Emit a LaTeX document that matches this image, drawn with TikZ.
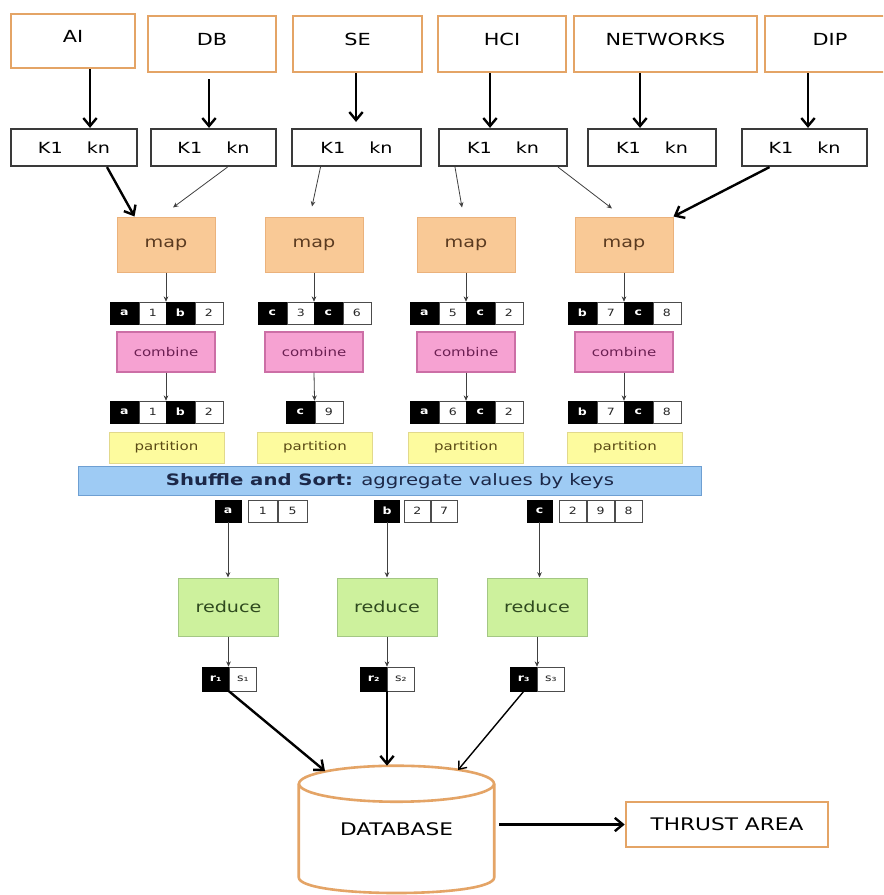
\documentclass[tikz,border=0pt]{standalone}
\usepackage{fontspec}
\setmainfont[FakeStretch=1.25]{DejaVu Sans}
\usetikzlibrary{arrows.meta,calc}
\newdimen\px
\px=0.75pt
\definecolor{orB}{HTML}{E4A466}
\definecolor{kB}{HTML}{3A3A3A}
\definecolor{mapF}{HTML}{F9C996}
\definecolor{mapB}{HTML}{EBB27C}
\definecolor{mapT}{HTML}{5A3A20}
\definecolor{cmbF}{HTML}{F6A2D2}
\definecolor{cmbB}{HTML}{CC6FA6}
\definecolor{cmbT}{HTML}{6B1F52}
\definecolor{parF}{HTML}{FDFB9E}
\definecolor{parB}{HTML}{E2D98C}
\definecolor{parT}{HTML}{5A4A15}
\definecolor{redF}{HTML}{CDF19D}
\definecolor{redB}{HTML}{A4C784}
\definecolor{redT}{HTML}{2F4A1F}
\definecolor{shF}{HTML}{9ECBF4}
\definecolor{shB}{HTML}{6E9FD2}
\definecolor{shT}{HTML}{1C2848}
\newcommand\kvp[5]{%
  \node[kcell,anchor=west] (#1k) at (#2,#3) {#4};
  \node[vcell,anchor=west] (#1v) at (#1k.east) {#5};}
\begin{document}
\begin{tikzpicture}[x=0.75pt,y=-0.75pt,
  topbox/.style={draw=orB,line width=2.6\px,fill=white,minimum height=56\px,inner sep=0pt,text height=9pt,text depth=7pt,font=\fontsize{12.5}{15}\selectfont},
  kbox/.style={draw=kB,line width=2.2\px,fill=white,minimum height=37\px,inner sep=0pt,font=\fontsize{11.5}{13}\selectfont},
  mapbox/.style={draw=mapB,line width=1\px,fill=mapF,minimum width=98\px,minimum height=55\px,inner sep=0pt,text=mapT,font=\fontsize{11.5}{13}\selectfont},
  cmbbox/.style={draw=cmbB,line width=1.2\px,fill=cmbF,minimum width=98\px,minimum height=40\px,inner sep=0pt,text=cmbT,font=\fontsize{9}{11}\selectfont},
  parbox/.style={draw=parB,line width=1\px,fill=parF,minimum width=115\px,minimum height=31\px,inner sep=0pt,text=parT,font=\fontsize{9}{11}\selectfont},
  redbox/.style={draw=redB,line width=1\px,fill=redF,minimum width=100\px,minimum height=58\px,inner sep=0pt,text=redT,font=\fontsize{11.5}{13}\selectfont},
  kcell/.style={draw=black,fill=black,text=white,minimum width=28\px,minimum height=22\px,inner sep=0pt,font=\fontsize{7.5}{8}\selectfont\bfseries},
  vcell/.style={draw=black!70,line width=0.8\px,fill=white,text=black!85,minimum width=28\px,minimum height=22\px,inner sep=0pt,font=\fontsize{7.5}{8}\selectfont},
  bigarr/.style={line width=2.4\px,-{Straight Barb[length=6pt,width=10pt]}},
  midarr/.style={line width=1.4\px,-{Straight Barb[length=5pt,width=8pt]}},
  thinarr/.style={line width=0.8\px,draw=black!75,-{Stealth[length=4pt,width=3.5pt]}},
  dbline/.style={draw=orB,line width=2.6\px}
]
\useasboundingbox (0,0) rectangle (883,895);
\fill[white] (0,0) rectangle (883,895);
\clip (0,0) rectangle (883,895);

% top boxes
\node[topbox,minimum width=124\px,minimum height=54\px] (ai) at (73,41) {AI};
\node[topbox,minimum width=128\px] (dbs) at (212,44) {DB};
\node[topbox,minimum width=129\px] (se) at (357.5,44) {SE};
\node[topbox,minimum width=128\px] (hci) at (502,44) {HCI};
\node[topbox,minimum width=183\px] (net) at (665.5,44) {NETWORKS};
\node[topbox,minimum width=130\px] (dip) at (830,44) {DIP};

% key boxes
\node[kbox,minimum width=126\px] (kA) at (74,147.5) {K1\hspace{24\px}kn};
\node[kbox,minimum width=125\px] (kB) at (213.5,147.5) {K1\hspace{24\px}kn};
\node[kbox,minimum width=129\px] (kC) at (356.5,147.5) {K1\hspace{24\px}kn};
\node[kbox,minimum width=128\px] (kD) at (503,147.5) {K1\hspace{24\px}kn};
\node[kbox,minimum width=128\px] (kE) at (652,147.5) {K1\hspace{24\px}kn};
\node[kbox,minimum width=125\px] (kF) at (804.5,147.5) {K1\hspace{24\px}kn};

\coordinate (xa) at (90,0);
\coordinate (xb) at (209,0);
\coordinate (xc) at (356,0);
\coordinate (xd) at (490,0);
\coordinate (xe) at (640,0);
\coordinate (xf) at (808,0);
\draw[bigarr] (ai.south -| xa) -- (kA.north -| xa);
\draw[bigarr,shorten <=6\px] (dbs.south -| xb) -- (kB.north -| xb);
\draw[bigarr,shorten >=6\px] (se.south -| xc) -- (kC.north -| xc);
\draw[bigarr] (hci.south -| xd) -- (kD.north -| xd);
\draw[bigarr] (net.south -| xe) -- (kE.north -| xe);
\draw[bigarr] (dip.south -| xf) -- (kF.north -| xf);

% map
\node[mapbox] (m1) at (166,244.5) {map};
\node[mapbox] (m2) at (314,244.5) {map};
\node[mapbox] (m3) at (466,244.5) {map};
\node[mapbox] (m4) at (624,244.5) {map};

\draw[bigarr] ([xshift=33\px]kA.south) -- ([xshift=18\px]m1.north west);
\draw[thinarr] ([xshift=14\px]kB.south) -- ([xshift=7\px,yshift=9\px]m1.north);
\draw[thinarr] ([xshift=-36\px]kC.south) -- ([xshift=-2\px,yshift=10\px]m2.north);
\draw[thinarr] ([xshift=-48\px]kD.south) -- ([xshift=-4\px,yshift=9\px]m3.north);
\draw[thinarr] ([xshift=55\px]kD.south) -- ([xshift=-12\px,yshift=8\px]m4.north);
\draw[bigarr] ([xshift=-35\px]kF.south) -- (m4.north east);

% pairs row 1
\kvp{pa1}{110}{313}{a}{1}
\kvp{pa2}{166}{313}{b}{2}
\kvp{pb1}{258}{313}{c}{3}
\kvp{pb2}{314}{313}{c}{6}
\kvp{pc1}{410}{313}{a}{5}
\kvp{pc2}{466}{313}{c}{2}
\kvp{pd1}{568}{313}{b}{7}
\kvp{pd2}{624}{313}{c}{8}
\draw[thinarr] (m1.south) -- (pa2k.north west);
\draw[thinarr] (m2.south) -- (pb2k.north west);
\draw[thinarr] (m3.south) -- (pc2k.north west);
\draw[thinarr] (m4.south) -- (pd2k.north west);

% combine
\node[cmbbox] (c1) at (166,352) {combine};
\node[cmbbox] (c2) at (314,352) {combine};
\node[cmbbox] (c3) at (466,352) {combine};
\node[cmbbox] (c4) at (624,352) {combine};

% pairs row 2
\kvp{qa1}{110}{412}{a}{1}
\kvp{qa2}{166}{412}{b}{2}
\kvp{qb1}{286}{412}{c}{9}
\kvp{qc1}{410}{412}{a}{6}
\kvp{qc2}{466}{412}{c}{2}
\kvp{qd1}{568}{412}{b}{7}
\kvp{qd2}{624}{412}{c}{8}
\draw[thinarr] (c1.south) -- (qa2k.north west);
\draw[thinarr] (c2.south) -- (qb1k.north east);
\draw[thinarr] (c3.south) -- (qc2k.north west);
\draw[thinarr] (c4.south) -- (qd2k.north west);

% partition
\node[parbox] (p1) at (166.5,447.5) {partition};
\node[parbox] (p2) at (315,447.5) {partition};
\node[parbox] (p3) at (466,447.5) {partition};
\node[parbox] (p4) at (625,447.5) {partition};

% shuffle
\node[draw=shB,line width=1.5\px,fill=shF,minimum width=623\px,minimum height=29\px,inner sep=0pt,text=shT,font=\fontsize{11.8}{13}\selectfont] (sh) at (390,481) {\textbf{Shuffle and Sort:} aggregate values by keys};

% grouped keys
\node[kcell,minimum width=26\px] (ga) at (228,511) {a};
\node[vcell,anchor=west,minimum width=29\px] (ga1) at (248,511) {1};
\node[vcell,anchor=west,minimum width=29\px] (ga2) at (ga1.east) {5};
\node[kcell,minimum width=25\px] (gb) at (387,511) {b};
\node[vcell,anchor=west,minimum width=26\px] (gb1) at (404,511) {2};
\node[vcell,anchor=west,minimum width=26\px] (gb2) at (gb1.east) {7};
\node[kcell,minimum width=25\px] (gc) at (539.5,511) {c};
\node[vcell,anchor=west,minimum width=27\px] (gc1) at (559,511) {2};
\node[vcell,anchor=west,minimum width=27\px] (gc2) at (gc1.east) {9};
\node[vcell,anchor=west,minimum width=27\px] (gc3) at (gc2.east) {8};

% reduce
\node[redbox] (r1) at (228.5,607) {reduce};
\node[redbox] (r2) at (387,607) {reduce};
\node[redbox] (r3) at (537,607) {reduce};
\draw[thinarr] (ga.south) -- (ga.south |- r1.north);
\draw[thinarr] (gb.south) -- (r2.north);
\draw[thinarr] (gc.south) -- (gc.south |- r3.north);

% outputs
\node[kcell,anchor=east,minimum width=26\px,minimum height=24\px] (o1k) at (229,679) {r₁};
\node[vcell,anchor=west,minimum width=27\px,minimum height=24\px] (o1v) at (229,679) {s₁};
\node[kcell,anchor=east,minimum width=26\px,minimum height=24\px] (o2k) at (387,679) {r₂};
\node[vcell,anchor=west,minimum width=27\px,minimum height=24\px] (o2v) at (387,679) {s₂};
\node[kcell,anchor=east,minimum width=26\px,minimum height=24\px] (o3k) at (537,679) {r₃};
\node[vcell,anchor=west,minimum width=27\px,minimum height=24\px] (o3v) at (537,679) {s₃};
\draw[thinarr] (r1.south) -- (r1.south |- o1k.north);
\draw[thinarr] (r2.south) -- (o2k.north east);
\draw[thinarr] (r3.south) -- (o3k.north east);

% database
\node[minimum width=195\px,minimum height=127\px,inner sep=0pt,font=\fontsize{13}{15}\selectfont] (db) at (396.5,829.5) {DATABASE};
\draw[dbline] ($(db.north west)+(0,18)$) -- ($(db.south west)+(0,-16)$) .. controls +(0,21) and +(0,21) .. ($(db.south east)+(0,-16)$) -- ($(db.north east)+(0,18)$);
\draw[dbline] ($(db.north)+(0,18)$) ellipse [x radius=97.5, y radius=18];
\coordinate (dbL) at (325,771);
\coordinate (dbR) at (458,770);
\draw[bigarr] (o1k.south east) -- (dbL);
\draw[bigarr] (o2k.south east) -- (o2k.south east |- db.north);
\draw[midarr] (o3k.south) -- (dbR);

% thrust area
\node[draw=orB,line width=2.6\px,fill=white,minimum width=202\px,minimum height=45\px,inner sep=0pt,font=\fontsize{13}{15}\selectfont] (ta) at (727,824.5) {THRUST AREA};
\draw[bigarr,shorten <=5\px] (db.east |- ta.west) -- (ta.west);
\end{tikzpicture}
\end{document}
